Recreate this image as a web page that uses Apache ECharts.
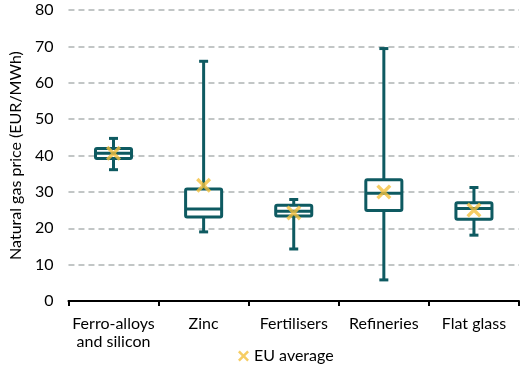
<!DOCTYPE html>
<html><head><meta charset="utf-8">
<script src="https://cdn.jsdelivr.net/npm/echarts@6/dist/echarts.min.js"></script>
<style>html,body{margin:0;padding:0;background:#fff}#c{width:524px;height:370px}</style>
</head><body><div id="c"></div>
<script>
const categories = ['Ferro-alloys\nand silicon', 'Zinc', 'Fertilisers', 'Refineries', 'Flat glass'];
const whiskerLow = [36.1, 19.0, 14.3, 5.8, 18.1];
const boxQ1 = [39.2, 23.1, 23.4, 24.9, 22.5];
const median = [40.6, 25.3, 24.7, 29.6, 25.4];
const boxQ3 = [41.9, 30.8, 26.3, 33.3, 27.0];
const whiskerHigh = [44.7, 65.9, 27.9, 69.4, 31.2];
const euAverage = [40.6, 31.8, 24.2, 30.0, 25.0];
const yTicks = [0, 10, 20, 30, 40, 50, 60, 70, 80];

const teal = '#0E5A61';
const yellow = '#F4C03D';
const font = 'Lato, "Open Sans", sans-serif';
const xPath = 'path://M0,1.6 L1.6,0 L5,3.4 L8.4,0 L10,1.6 L6.6,5 L10,8.4 L8.4,10 L5,6.6 L1.6,10 L0,8.4 L3.4,5 Z';

const boxData = categories.map((c, i) => [i, whiskerLow[i], boxQ1[i], median[i], boxQ3[i], whiskerHigh[i]]);

const chart = echarts.init(document.getElementById('c'));
chart.setOption({
  animation: false,
  grid: {left: 68, right: 5, top: 10, bottom: 69},
  legend: {
    data: [{name: 'EU average', icon: xPath}],
    top: 343, left: 233, itemWidth: 11, itemHeight: 11, itemGap: 3,
    textStyle: {fontFamily: font, fontSize: 16, color: '#000'}
  },
  xAxis: {
    type: 'category', data: categories,
    axisLine: {lineStyle: {color: '#000', width: 2}},
    axisTick: {show: true, length: 5, lineStyle: {color: '#000', width: 2}},
    axisLabel: {fontFamily: font, fontSize: 16, color: '#000', margin: 14, interval: 0, lineHeight: 18}
  },
  yAxis: {
    type: 'value', min: yTicks[0], max: yTicks[yTicks.length - 1], interval: 10,
    name: 'Natural gas price (EUR/MWh)', nameLocation: 'middle', nameGap: 40,
    nameTextStyle: {fontFamily: font, fontSize: 16, color: '#000'},
    axisLine: {show: false}, axisTick: {show: false},
    axisLabel: {fontFamily: font, fontSize: 16, color: '#000', margin: 15},
    splitLine: {lineStyle: {color: '#AEB4B4', type: [6, 4], width: 1.5}}
  },
  series: [
    {
      type: 'custom', name: 'box', data: boxData,
      renderItem: function (params, api) {
        const x = api.value(0);
        const pLow = api.coord([x, api.value(1)]);
        const pQ1 = api.coord([x, api.value(2)]);
        const pMed = api.coord([x, api.value(3)]);
        const pQ3 = api.coord([x, api.value(4)]);
        const pHigh = api.coord([x, api.value(5)]);
        const bw = api.size([1, 0])[0] * 0.4;
        const cw = 9;
        const cx = pLow[0];
        const st = {stroke: teal, lineWidth: 3, fill: null};
        return {
          type: 'group',
          children: [
            {type: 'line', shape: {x1: cx, y1: pLow[1], x2: cx, y2: pHigh[1]}, style: st},
            {type: 'line', shape: {x1: cx - cw / 2, y1: pLow[1], x2: cx + cw / 2, y2: pLow[1]}, style: st},
            {type: 'line', shape: {x1: cx - cw / 2, y1: pHigh[1], x2: cx + cw / 2, y2: pHigh[1]}, style: st},
            {type: 'rect', shape: {x: cx - bw / 2, y: pQ3[1], width: bw, height: pQ1[1] - pQ3[1], r: 1.5},
              style: {stroke: teal, lineWidth: 3, fill: '#fff'}},
            {type: 'line', shape: {x1: cx - bw / 2, y1: pMed[1], x2: cx + bw / 2, y2: pMed[1]}, style: st}
          ]
        };
      },
      z: 2
    },
    {
      type: 'scatter', name: 'EU average', data: euAverage,
      symbol: xPath, symbolSize: 15,
      itemStyle: {color: yellow}, z: 3
    }
  ]
});
</script></body></html>
